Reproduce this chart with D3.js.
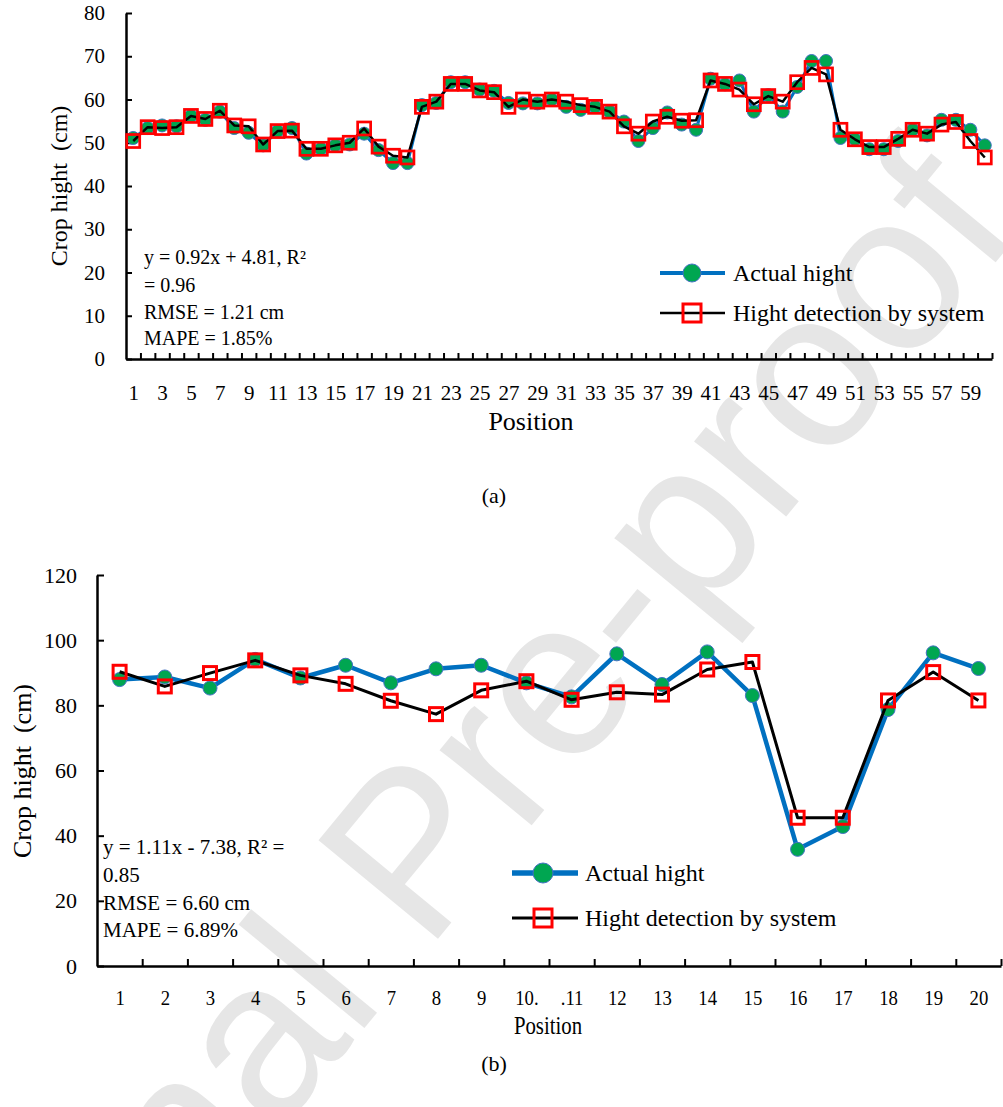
<!DOCTYPE html>
<html><head><meta charset="utf-8">
<script src="https://cdn.jsdelivr.net/npm/d3@7"></script>
<style>
body{margin:0;background:#fff}
text{font-family:"Liberation Serif","Times New Roman",serif;fill:#000}
</style>
</head><body>
<svg id="c" width="1003" height="1107"></svg>
<script>
// ---------- data: chart (a) ----------
const positionsA = [1,2,3,4,5,6,7,8,9,10,11,12,13,14,15,16,17,18,19,20,21,22,23,24,25,26,27,28,29,30,31,32,33,34,35,36,37,38,39,40,41,42,43,44,45,46,47,48,49,50,51,52,53,54,55,56,57,58,59,60];
const actualA = [51.1,53.4,54.0,53.8,56.2,55.3,57.2,53.4,52.3,49.4,
                 52.7,53.4,47.5,48.6,49.4,49.6,52.1,48.3,45.3,45.3,
                 58.7,59.2,64.0,64.0,62.3,62.0,59.2,59.1,59.1,60.0,
                 58.3,57.6,58.3,57.2,54.9,50.4,53.4,57.0,54.2,53.0,
                 64.8,63.5,64.4,57.2,61.0,57.2,62.9,68.9,68.9,51.1,
                 50.8,48.5,48.5,50.4,53.0,51.7,55.3,55.3,53.0,49.4];
const detectedA = [50.4,53.6,53.4,53.6,56.2,55.5,57.4,54.0,53.8,49.6,
                   52.7,52.8,48.6,48.6,49.4,50.0,53.3,49.1,47.0,46.6,
                   58.3,59.5,63.6,63.6,62.1,61.7,58.3,60.0,59.5,60.0,
                   59.5,58.7,58.3,57.2,53.8,52.1,54.9,56.0,55.1,55.2,
                   64.4,63.6,62.3,58.9,60.8,59.5,64.0,67.3,65.8,53.0,
                   50.8,49.0,49.0,50.9,53.0,52.1,54.2,54.8,50.4,46.6];
const xLabelsA = [1,3,5,7,9,11,13,15,17,19,21,23,25,27,29,31,33,35,37,39,41,43,45,47,49,51,53,55,57,59];
const yTicksA = [0,10,20,30,40,50,60,70,80];
const statsA = ["y = 0.92x + 4.81, R\u00b2", "= 0.96", "RMSE = 1.21 cm", "MAPE = 1.85%"];

// ---------- data: chart (b) ----------
const positionsB = [1,2,3,4,5,6,7,8,9,10,11,12,13,14,15,16,17,18,19,20];
const actualB = [87.9,88.7,85.3,94.1,88.4,92.3,86.9,91.2,92.3,86.9,82.6,95.8,86.4,96.4,83.0,35.8,42.8,78.7,96.1,91.3];
const detectedB = [90.3,85.8,89.9,93.8,89.2,86.6,81.4,77.3,84.6,87.4,81.7,84.0,83.3,91.0,93.3,45.5,45.5,81.5,90.2,81.5];
const xLabelsB = ["1","2","3","4","5","6","7","8","9","10.",".11","12","13","14","15","16","17","18","19","20"];
const yTicksB = [0,20,40,60,80,100,120];
const statsB = ["y = 1.11x - 7.38, R\u00b2 =", "0.85", "RMSE = 6.60 cm", "MAPE = 6.89%"];

const seriesNames = ["Actual hight", "Hight detection by system"];
const yTitle = "Crop hight\u00a0 (cm)";
const xTitle = "Position";

const BLUE = "#0070C0", GREEN = "#00A651", RED = "#FF0000";
const SERIF = "'Liberation Serif','Times New Roman',serif";
const svg = d3.select("#c");

// watermark
svg.append("text")
  .attr("transform", "translate(470,900) rotate(-50.5)")
  .attr("text-anchor", "middle")
  .style("font-family", "'Liberation Sans', Arial, sans-serif")
  .style("font-size", "225px")
  .style("fill", "#e6e6e6")
  .text("Journal Pre-proof");

function drawChart(o) {
  const g = svg.append("g");
  const n = o.cats.length;
  const x = d3.scaleLinear().domain([0.5, n + 0.5]).range(o.xr);
  const y = d3.scaleLinear().domain(o.yd).range(o.yr);
  const y0 = o.yr[0];

  // y axis
  const ya = g.append("g").attr("transform", `translate(${o.xr[0]},0)`)
    .call(d3.axisLeft(y).tickValues(o.yTicks).tickSize(-o.tick).tickSizeOuter(0).tickPadding(o.yPad));
  ya.attr("font-family", null).attr("font-size", null);
  ya.select(".domain").attr("stroke", "#000").attr("stroke-width", 2.5);
  ya.selectAll(".tick line").attr("stroke", "#000").attr("stroke-width", 2);
  ya.selectAll(".tick text").style("font-size", o.yFont + "px").style("font-family", SERIF);

  // x axis (boundary ticks)
  const bounds = o.cats.map(c => c + 0.5);
  const xa = g.append("g").attr("transform", `translate(0,${y0})`)
    .call(d3.axisBottom(x).tickValues(bounds).tickSize(-o.tick).tickSizeOuter(0).tickFormat(""));
  xa.select(".domain").attr("stroke", "#000").attr("stroke-width", 2.5);
  xa.selectAll(".tick line").attr("stroke", "#000").attr("stroke-width", 2);

  // x labels
  const xl = g.append("g").attr("transform", `translate(0,${y0})`)
    .call(d3.axisBottom(x).tickValues(o.labelCats).tickSize(0).tickPadding(o.xPad)
      .tickFormat((d, i) => o.labelText[i]));
  xl.attr("font-family", null).attr("font-size", null);
  xl.select(".domain").remove();
  xl.selectAll(".tick text").style("font-size", o.xFont + "px").style("font-family", SERIF)
    .attr("transform", `scale(${o.xScale},1)`);

  // axis titles
  g.append("text").attr("transform", `translate(${o.yTitlePos[0]},${o.yTitlePos[1]}) rotate(-90)`)
    .attr("text-anchor", "middle").attr("dy", "0.35em").style("font-size", o.titleFont + "px").text(yTitle);
  g.append("text").attr("transform", `translate(${o.xTitlePos[0]},${o.xTitlePos[1]}) scale(${o.xTitleScale},1)`)
    .attr("text-anchor", "middle").attr("dy", "0.35em").style("font-size", o.xTitleFont + "px").text(xTitle);

  // series
  const line = d3.line().x(d => x(d[0])).y(d => y(d[1]));
  const a = o.cats.map((c, i) => [c, o.actual[i]]);
  const dd = o.cats.map((c, i) => [c, o.detected[i]]);
  g.append("path").datum(a).attr("d", line).attr("fill", "none").attr("stroke", BLUE)
    .attr("stroke-width", o.blueW).attr("stroke-linejoin", "round");
  g.selectAll(null).data(a).join("circle").attr("cx", d => x(d[0])).attr("cy", d => y(d[1]))
    .attr("r", o.r).attr("fill", GREEN).attr("stroke", "#4472C4").attr("stroke-width", 1);
  g.append("path").datum(dd).attr("d", line).attr("fill", "none").attr("stroke", "#000")
    .attr("stroke-width", o.blackW).attr("stroke-linejoin", "round");
  g.selectAll(null).data(dd).join("rect").attr("x", d => x(d[0]) - o.sq / 2).attr("y", d => y(d[1]) - o.sq / 2)
    .attr("width", o.sq).attr("height", o.sq).attr("fill", "none").attr("stroke", RED).attr("stroke-width", o.sqW);

  // stats text
  o.stats.forEach((s, i) => {
    g.append("text").attr("x", o.statX).attr("y", o.statY[i]).attr("dy", "0.35em")
      .style("font-size", o.statFont + "px").text(s);
  });

  // legend
  const L = o.legend;
  [0, 1].forEach(k => {
    const ly = L.y[k];
    g.append("line").attr("x1", L.x1).attr("x2", L.x2).attr("y1", ly).attr("y2", ly)
      .attr("stroke", k === 0 ? BLUE : "#000").attr("stroke-width", k === 0 ? o.blueW + 1 : o.blackW);
    if (k === 0) {
      g.append("circle").attr("cx", L.cx).attr("cy", ly).attr("r", L.r).attr("fill", GREEN)
        .attr("stroke", "#4472C4").attr("stroke-width", 1);
    } else {
      g.append("rect").attr("x", L.cx - L.sq / 2).attr("y", ly - L.sq / 2).attr("width", L.sq).attr("height", L.sq)
        .attr("fill", "none").attr("stroke", RED).attr("stroke-width", 3);
    }
    g.append("text").attr("x", L.tx).attr("y", ly).attr("dy", "0.35em").style("font-size", L.font + "px")
      .text(seriesNames[k]);
  });

  // caption
  g.append("text").attr("x", o.cap[0]).attr("y", o.cap[1]).attr("dy", "0.35em").attr("text-anchor", "middle")
    .style("font-size", "22px").text(o.capText);
}

drawChart({
  cats: positionsA, actual: actualA, detected: detectedA,
  xr: [126, 992], yd: [0, 80], yr: [359, 13], yTicks: yTicksA, tick: 6, yPad: 21, yFont: 21,
  labelCats: xLabelsA, labelText: xLabelsA.map(String), xPad: 26, xFont: 21, xScale: 1,
  yTitlePos: [59, 186], titleFont: 24, xTitlePos: [531, 421], xTitleScale: 1, xTitleFont: 26,
  blueW: 3, blackW: 2.5, r: 6.5, sq: 13, sqW: 2.7,
  stats: statsA, statX: 144, statY: [257, 285, 312, 338], statFont: 20,
  legend: {x1: 660, x2: 725, cx: 692, r: 9, sq: 18, tx: 733, y: [273, 313], font: 24},
  cap: [494, 495], capText: "(a)"
});

drawChart({
  cats: positionsB, actual: actualB, detected: detectedB,
  xr: [97, 1001], yd: [0, 120], yr: [966, 575], yTicks: yTicksB, tick: 7, yPad: 20, yFont: 22,
  labelCats: positionsB, labelText: xLabelsB, xPad: 23, xFont: 22, xScale: 0.85,
  yTitlePos: [22, 771], titleFont: 26, xTitlePos: [548, 1025], xTitleScale: 0.8, xTitleFont: 26,
  blueW: 4.5, blackW: 3, r: 7, sq: 13, sqW: 3,
  stats: statsB, statX: 103, statY: [847, 875, 903, 930], statFont: 21,
  legend: {x1: 512, x2: 578, cx: 543, r: 10, sq: 18, tx: 585, y: [873, 918], font: 24},
  cap: [494, 1063], capText: "(b)"
});
</script>
</body></html>
